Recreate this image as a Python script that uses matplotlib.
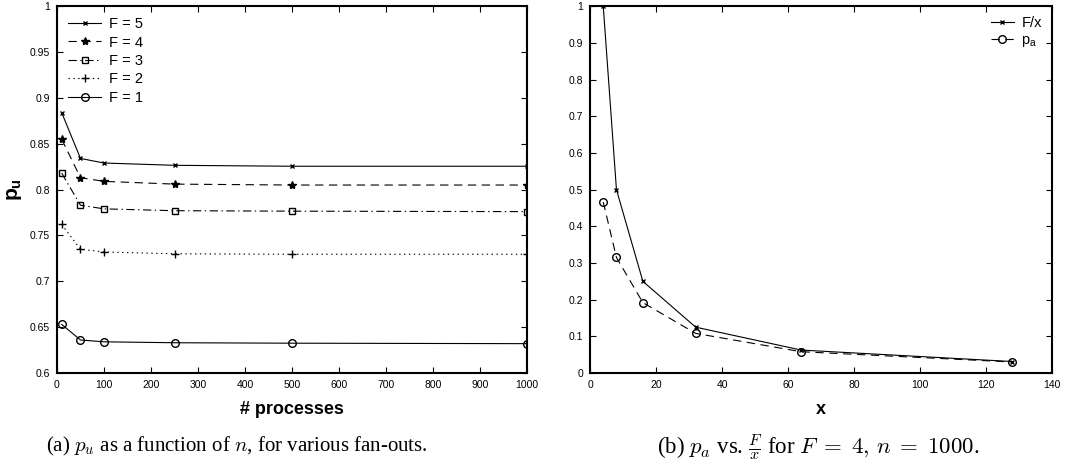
import matplotlib
matplotlib.use('Agg')
import matplotlib.pyplot as plt

plt.rcParams['font.family'] = ['Liberation Sans', 'DejaVu Sans']
plt.rcParams['mathtext.fontset'] = 'custom'
plt.rcParams['mathtext.rm'] = 'Liberation Sans'
plt.rcParams['mathtext.it'] = 'Liberation Sans:italic'
plt.rcParams['mathtext.bf'] = 'Liberation Sans:bold'
plt.rcParams['lines.scale_dashes'] = False

# (a) p_u vs number of processes
n_procs = [10, 50, 100, 250, 500, 1000]
pu_f5 = [0.884, 0.834, 0.829, 0.8265, 0.8255, 0.8255]
pu_f4 = [0.855, 0.813, 0.809, 0.806, 0.805, 0.805]
pu_f3 = [0.818, 0.783, 0.779, 0.777, 0.7765, 0.776]
pu_f2 = [0.762, 0.735, 0.732, 0.730, 0.7295, 0.7295]
pu_f1 = [0.653, 0.636, 0.634, 0.633, 0.6325, 0.632]

# (b) p_a vs F/x
x_vals = [4, 8, 16, 32, 64, 128]
f_over_x = [1.0, 0.5, 0.25, 0.125, 0.0625, 0.03125]
p_a = [0.466, 0.315, 0.192, 0.108, 0.058, 0.030]

fig = plt.figure(figsize=(10.67, 4.69), dpi=100)
ax1 = fig.add_axes([0.0534, 0.2047, 0.4406, 0.782])
ax2 = fig.add_axes([0.553, 0.2047, 0.433, 0.782])

lw = 0.8
dash = (6, 4)
dashdot = (6, 2.5, 1, 2.5)
dot = (1, 2.5)
ax1.plot(n_procs, pu_f5, '-', marker='x', ms=3.5, mew=1, color='k', lw=lw, label='F = 5')
ax1.plot(n_procs, pu_f4, marker='*', ms=6, color='k', lw=lw, dashes=dash, label='F = 4')
ax1.plot(n_procs, pu_f3, marker='s', ms=4.5, mfc='none', color='k', lw=lw,
         dashes=dashdot, label='F = 3')
ax1.plot(n_procs, pu_f2, marker='+', ms=6, color='k', lw=lw, dashes=dot, label='F = 2')
ax1.plot(n_procs, pu_f1, '-', marker='o', ms=5.5, mfc='none', color='k', lw=lw, label='F = 1')
ax1.set_xlim(0, 1000)
ax1.set_ylim(0.6, 1.0)
ax1.set_xticks(range(0, 1001, 100))
ax1.set_yticks([0.6, 0.65, 0.7, 0.75, 0.8, 0.85, 0.9, 0.95, 1.0])
ax1.set_yticklabels(['0.6', '0.65', '0.7', '0.75', '0.8', '0.85', '0.9', '0.95', '1'])
ax1.set_xlabel('# processes', fontsize=13, fontweight='bold', labelpad=8)
ax1.set_ylabel(r'$\mathbf{p_u}$', fontsize=15, labelpad=4)
ax1.legend(loc='upper left', frameon=False, fontsize=10.5, handlelength=2.3,
           labelspacing=0.3, borderaxespad=0.35, handletextpad=0.5)

ax2.plot(x_vals, f_over_x, '-', marker='x', ms=3.5, mew=1, color='k', lw=lw, label='F/x')
ax2.plot(x_vals, p_a, marker='o', ms=5.5, mfc='none', color='k', lw=lw, dashes=dash,
         label=r'$\mathrm{p_a}$')
ax2.set_xlim(0, 140)
ax2.set_ylim(0, 1)
ax2.set_xticks(range(0, 141, 20))
ax2.set_yticks([i / 10 for i in range(11)])
ax2.set_yticklabels(['0', '0.1', '0.2', '0.3', '0.4', '0.5', '0.6', '0.7', '0.8', '0.9', '1'])
ax2.set_xlabel('x', fontsize=13, fontweight='bold', labelpad=8)
ax2.legend(loc='upper right', frameon=False, fontsize=10.5, handlelength=1.6,
           labelspacing=0.15, borderaxespad=0.3, handletextpad=0.5)

for ax in (ax1, ax2):
    ax.tick_params(direction='in', top=True, right=True, labelsize=7.5, length=4,
                   width=0.8, pad=5)
    for s in ax.spines.values():
        s.set_linewidth(1.5)

fig.text(0.222, 0.047, r'(a) $p_u$ as a function of $n$, for various fan-outs.',
         ha='center', va='center', fontsize=15, family='Liberation Serif',
         math_fontfamily='cm')
fig.text(0.767, 0.047,
         r'(b) $p_a$ vs. $\frac{F}{x}$ for $F\;=\;4,\,n\;=\;1000$.',
         ha='center', va='center', fontsize=16.5, family='Liberation Serif',
         math_fontfamily='cm')

fig.savefig('out.png', dpi=100)
